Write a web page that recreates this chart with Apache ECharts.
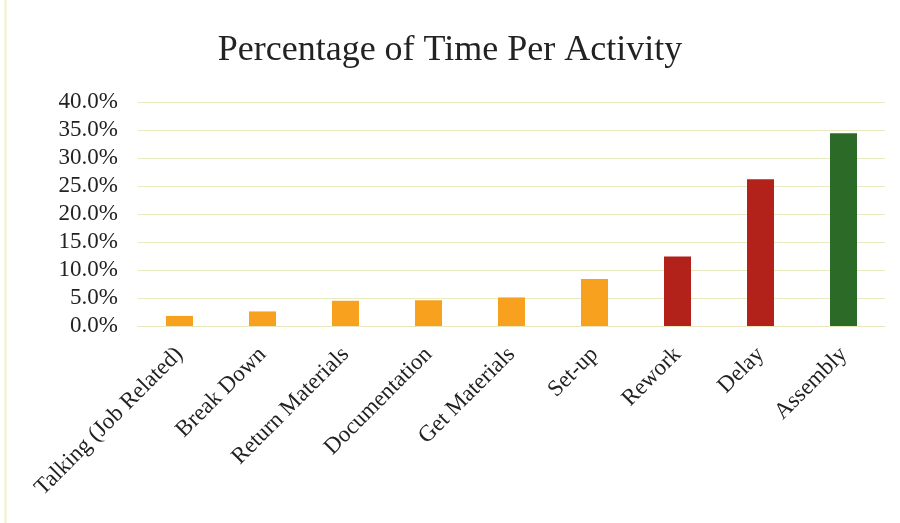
<!DOCTYPE html>
<html>
<head>
<meta charset="utf-8">
<script src="https://cdn.jsdelivr.net/npm/echarts@6/dist/echarts.min.js"></script>
<style>
  html, body { margin: 0; padding: 0; background: #ffffff; }
  #chart { width: 900px; height: 523px; }
</style>
</head>
<body>
<div id="chart"></div>
<script>
// Share of observed time spent on each activity (percent)
const activities = [
  'Talking (Job Related)', 'Break Down', 'Return Materials', 'Documentation',
  'Get Materials', 'Set-up', 'Rework', 'Delay', 'Assembly'
];
const shares = [1.8, 2.6, 4.5, 4.6, 5.1, 8.4, 12.4, 26.2, 34.4];
// Colour group per activity: support work, waste, value-adding
const groups = ['support', 'support', 'support', 'support', 'support', 'support', 'waste', 'waste', 'value'];
const groupColors = { support: '#F8A11F', waste: '#B2221B', value: '#2C6A27' };

const serif = '"Liberation Serif", "Times New Roman", serif';

const chart = echarts.init(document.getElementById('chart'), null, { renderer: 'canvas' });
chart.setOption({
  animation: false,
  backgroundColor: '#ffffff',
  title: {
    text: 'Percentage of Time Per Activity',
    left: 'center',
    top: 28,
    textStyle: { fontFamily: serif, fontSize: 36, fontWeight: 'normal', color: '#222222' }
  },
  grid: { left: 138, right: 15, top: 102, bottom: 197 },
  xAxis: {
    type: 'category',
    data: activities,
    axisTick: { show: false },
    axisLine: { show: true, lineStyle: { color: '#e6e7bc', width: 1 } },
    axisLabel: {
      interval: 0,
      rotate: 45,
      margin: 25,
      fontFamily: serif,
      fontSize: 23,
      color: '#222222'
    }
  },
  yAxis: {
    type: 'value',
    min: 0,
    max: 40,
    interval: 5,
    axisLine: { show: false },
    axisTick: { show: false },
    splitLine: { lineStyle: { color: '#e8eabf', width: 1 } },
    axisLabel: {
      margin: 20,
      fontFamily: serif,
      fontSize: 23,
      color: '#222222',
      formatter: v => v.toFixed(1) + '%'
    }
  },
  series: [{
    type: 'bar',
    barWidth: 27,
    data: shares.map((v, i) => ({ value: v, itemStyle: { color: groupColors[groups[i]] } }))
  }],
  graphic: [{
    type: 'line',
    shape: { x1: 5.5, y1: 0, x2: 5.5, y2: 523 },
    style: { stroke: '#f4f0c6', lineWidth: 2 }
  }]
});
</script>
</body>
</html>
